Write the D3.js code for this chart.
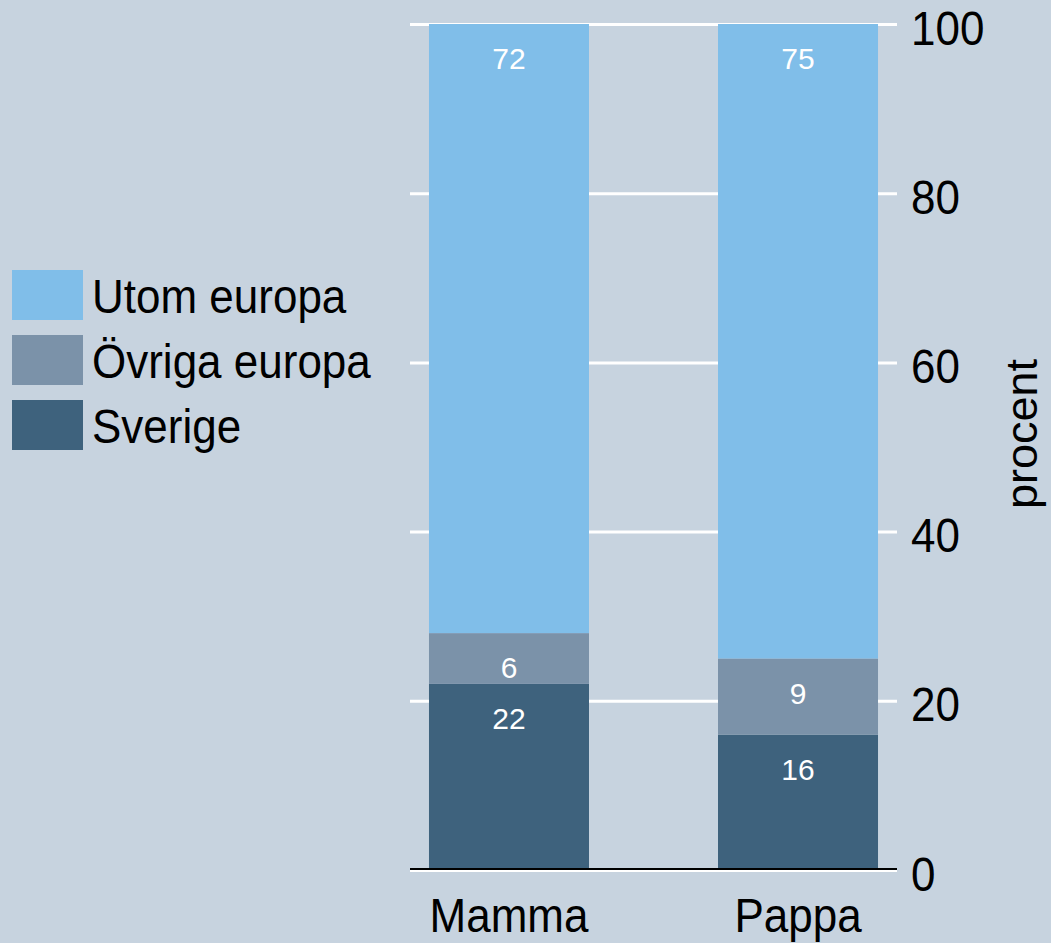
<!DOCTYPE html>
<html><head><meta charset="utf-8">
<script src="https://cdn.jsdelivr.net/npm/d3@7"></script>
<style>html,body{margin:0;padding:0;background:#c7d3df;}svg{display:block;}</style>
</head><body>
<script>
const categories = ["Mamma", "Pappa"];
const seriesNames = ["Sverige", "Övriga europa", "Utom europa"];
const sverige = [22, 16];
const ovrigaEuropa = [6, 9];
const utomEuropa = [72, 75];
const yTicks = [0, 20, 40, 60, 80, 100];
const colors = ["#3e627d", "#7b92a9", "#80bee9"];
const legendOrder = ["Utom europa", "Övriga europa", "Sverige"];

const W = 1051, H = 943;
const svg = d3.select("body").append("svg").attr("width", W).attr("height", H);
svg.append("rect").attr("width", W).attr("height", H).attr("fill", "#c7d3df");

const font = "Liberation Sans, Arial, sans-serif";
const FS = 44, SY = 1.1;
const x = d3.scaleBand().domain(categories).range([410, 897]).paddingInner(0.4464).paddingOuter(0.0657);
const y = d3.scaleLinear().domain([0, 100]).range([870, 24]);

const rows = categories.map((c, i) => ({cat: c, "Sverige": sverige[i], "Övriga europa": ovrigaEuropa[i], "Utom europa": utomEuropa[i]}));
const stacked = d3.stack().keys(seriesNames)(rows);
const color = d3.scaleOrdinal().domain(seriesNames).range(colors);

// gridlines
svg.append("g").selectAll("line").data(yTicks).join("line")
  .attr("x1", 410).attr("x2", 897).attr("y1", d => y(d) + (d === 0 ? 0.5 : 0.5)).attr("y2", d => y(d) + 0.5)
  .attr("stroke", "#ffffff").attr("stroke-width", 3);

// bars
const layers = svg.append("g").selectAll("g").data(stacked).join("g").attr("fill", d => color(d.key));
layers.selectAll("rect").data(d => d).join("rect")
  .attr("x", d => x(d.data.cat)).attr("width", x.bandwidth())
  .attr("y", d => y(d[1])).attr("height", d => y(d[0]) - y(d[1]));

// value labels
const lab = svg.append("g");
stacked.forEach(layer => {
  layer.forEach(d => {
    lab.append("text").attr("x", x(d.data.cat) + x.bandwidth() / 2).attr("y", y(d[1]) + 45)
      .attr("text-anchor", "middle").attr("fill", "#ffffff")
      .attr("font-family", font).attr("font-size", 30).text(d[1] - d[0]);
  });
});

// baseline
svg.append("line").attr("x1", 410).attr("x2", 897).attr("y1", y(0) - 1).attr("y2", y(0) - 1)
  .attr("stroke", "#000000").attr("stroke-width", 2);

// right y axis
const yAxis = d3.axisRight(y).tickValues(yTicks).tickSize(0).tickPadding(14);
const ga = svg.append("g").attr("transform", "translate(897,0)").call(yAxis);
ga.select(".domain").remove();
ga.selectAll("text").attr("font-family", font).attr("font-size", FS).attr("fill", "#000")
  .attr("dy", (20 / SY) + "px").attr("transform", `scale(1,${SY})`);

svg.append("text").attr("transform", "translate(1037,434) rotate(-90)")
  .attr("text-anchor", "middle").attr("font-family", font).attr("font-size", 45).attr("fill", "#000").text("procent");

// x axis labels
const xAxis = d3.axisBottom(x).tickSize(0).tickPadding(0);
const gx = svg.append("g").attr("transform", "translate(0,870)").call(xAxis);
gx.select(".domain").remove();
gx.selectAll("text").attr("font-family", font).attr("font-size", FS).attr("fill", "#000")
  .attr("y", 0).attr("dy", (62 / SY) + "px").attr("transform", `scale(1,${SY})`);

// legend
const lg = svg.append("g");
legendOrder.forEach((name, i) => {
  const yy = 270 + i * 65;
  lg.append("rect").attr("x", 12).attr("y", yy).attr("width", 71).attr("height", 50).attr("fill", color(name));
  lg.append("text").attr("transform", `translate(92,${yy + 43}) scale(1,${SY})`)
    .attr("font-family", font).attr("font-size", FS).attr("fill", "#000").text(name);
});
</script>
</body></html>
